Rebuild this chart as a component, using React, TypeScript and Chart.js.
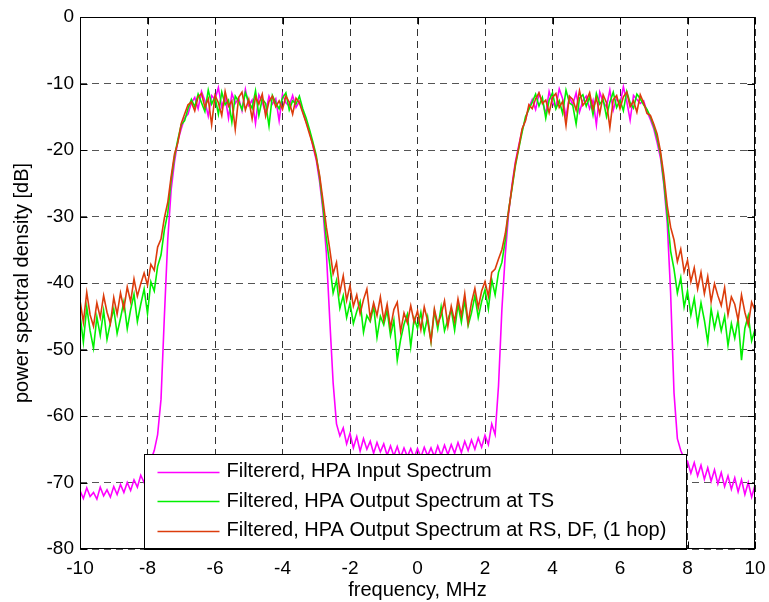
import { useEffect, useRef } from "react";
import { Chart, registerables } from "chart.js";

Chart.register(...registerables);

// Frequency grid: samples every 0.1 MHz from -10 to +10 MHz
const FREQ_START = -10;
const FREQ_STEP = 0.1;

const X_TICKS = [-10, -8, -6, -4, -2, 0, 2, 4, 6, 8, 10];
const Y_TICKS = [-80, -70, -60, -50, -40, -30, -20, -10, 0];

// Filtered HPA input spectrum [dB]
const INPUT_DB = [
  -71.2, -72.4, -70.8, -72.1, -71.5, -72.5, -70.7, -72.0, -71.1, -72.2,
  -70.6, -71.8, -70.3, -71.5, -70.0, -71.2, -69.6, -70.7, -68.9, -70.0,
  -67.8, -66.6, -65.2, -62.8, -57.5, -45.0, -33.5, -26.0, -21.8, -18.6,
  -16.8, -15.2, -14.6, -12.9, -12.1, -13.8, -11.2, -12.6, -14.9, -11.8,
  -12.4, -10.6, -13.5, -12.0, -15.2, -11.5, -13.0, -12.2, -14.1, -10.9,
  -13.3, -12.5, -16.0, -11.7, -12.8, -14.4, -11.9, -13.1, -12.3, -15.6,
  -11.6, -12.9, -13.4, -11.8, -13.6, -12.7, -14.2, -15.8, -17.2, -19.4,
  -21.5, -24.8, -29.2, -35.5, -45.5, -55.0, -61.2, -63.0, -61.8, -64.2,
  -62.6, -64.8, -63.1, -65.3, -63.4, -65.0, -63.8, -65.6, -64.0, -65.4,
  -64.2, -65.9, -64.5, -66.0, -64.6, -66.2, -64.8, -66.1, -64.9, -66.3,
  -64.9, -66.2, -64.7, -66.0, -64.8, -66.1, -64.5, -65.9, -64.4, -65.8,
  -64.3, -65.6, -64.0, -65.5, -63.8, -65.2, -63.6, -65.0, -63.3, -64.7,
  -62.9, -64.3, -61.2, -62.8, -55.5, -44.0, -35.8, -29.5, -25.2, -21.8,
  -19.3, -17.0, -15.4, -13.6, -12.4, -13.9, -11.5, -12.7, -14.6, -11.2,
  -12.9, -13.6, -10.8, -12.3, -15.0, -12.0, -13.2, -11.4, -14.3, -12.6,
  -11.9, -13.8, -12.5, -16.2, -11.3, -12.8, -13.5, -11.0, -14.0, -12.2,
  -13.1, -10.5, -12.7, -15.5, -11.8, -12.4, -13.0, -12.6, -14.2, -15.4,
  -16.8, -18.9, -21.2, -25.3, -31.0, -41.5, -56.5, -63.4, -65.2, -66.4,
  -66.8, -68.6, -67.0, -69.0, -67.4, -69.5, -67.8, -69.8, -68.1, -70.2,
  -68.5, -70.6, -69.0, -71.0, -69.3, -71.4, -69.6, -71.8, -70.0, -72.2,
  -70.4,
];

// Filtered HPA output spectrum at the transmitting station [dB]
const OUTPUT_TS_DB = [
  -44.8, -48.9, -43.6, -47.2, -49.8, -45.1, -47.9, -44.2, -48.5, -46.0,
  -43.9, -47.6, -45.3, -42.8, -46.9, -44.0, -41.7, -45.8, -43.2, -40.9,
  -44.6, -39.8, -41.2, -37.5, -35.8, -32.0, -29.5, -24.6, -21.0, -18.4,
  -16.2, -15.6, -13.8, -12.4, -13.5, -11.6, -12.9, -14.2, -11.0, -13.1,
  -12.0, -14.6, -11.3, -13.2, -12.5, -15.8, -11.9, -12.7, -13.9, -11.4,
  -12.8, -13.7, -11.1, -14.8, -12.3, -13.0, -16.4, -11.8, -12.9, -13.8,
  -12.2, -11.4, -14.0, -12.6, -13.1, -11.9, -13.8, -15.2, -16.9, -18.8,
  -20.8, -24.2, -28.5, -33.4, -37.2, -41.5, -39.6, -43.8, -41.9, -45.2,
  -43.0, -46.1, -44.3, -42.8, -47.4, -44.9, -45.8, -43.5, -48.2, -45.0,
  -46.3, -44.1, -47.9, -45.6, -51.6, -48.5, -46.2, -44.7, -49.6, -45.3,
  -46.8, -44.4, -47.5, -45.1, -48.8, -44.2, -46.9, -43.6, -47.2, -45.5,
  -44.0, -47.1, -43.2, -45.9, -42.6, -46.4, -44.5, -41.9, -45.2, -42.8,
  -41.0, -43.9, -39.5, -41.8, -38.4, -36.9, -33.6, -29.0, -25.8, -22.4,
  -19.8, -17.3, -15.0, -13.9, -12.8, -11.6, -13.4, -12.1, -15.2, -12.5,
  -11.4, -13.8, -12.6, -14.5, -11.0, -12.9, -13.3, -16.1, -12.2, -11.7,
  -13.4, -12.0, -14.7, -11.5, -13.1, -12.4, -15.0, -12.8, -11.3, -13.6,
  -12.5, -14.1, -11.2, -12.9, -13.7, -11.6, -12.3, -13.2, -13.9, -15.0,
  -16.4, -18.2, -20.6, -24.8, -29.8, -35.2, -37.9, -41.5, -39.2, -43.6,
  -41.2, -44.8, -42.3, -46.2, -43.0, -45.6, -48.9, -43.9, -46.8, -44.5,
  -47.2, -45.0, -49.4, -46.1, -48.3, -45.4, -51.6, -46.8, -44.9, -48.7,
  -47.0,
];

// Filtered HPA output spectrum at the receiving station, DF, one hop [dB]
const OUTPUT_RS_DB = [
  -42.6, -45.9, -41.4, -44.8, -46.5, -43.0, -45.2, -41.9, -44.4, -46.1,
  -42.2, -44.7, -41.5, -43.9, -40.6, -42.8, -39.4, -42.0, -40.1, -38.5,
  -40.3, -37.2, -38.1, -34.6, -33.4, -30.2, -27.9, -24.0, -20.6, -18.9,
  -16.0, -14.6, -13.2, -12.8, -14.1, -12.0, -11.5, -13.6, -12.3, -16.2,
  -11.8, -12.9, -14.8, -11.2, -13.4, -12.6, -16.9, -12.1, -11.3, -14.0,
  -12.4, -15.3, -12.0, -13.1, -11.6, -14.9, -12.7, -11.9, -13.5, -12.6,
  -13.9, -11.9, -12.8, -14.6, -12.2, -12.9, -14.4, -15.9, -17.6, -19.2,
  -21.2, -23.8, -27.6, -31.6, -34.9, -38.6, -36.9, -41.4, -38.9, -42.6,
  -40.4, -43.5, -41.8, -44.6, -42.5, -40.9, -45.3, -43.0, -44.9, -42.1,
  -45.6, -43.2, -46.8, -44.0, -42.9, -47.3, -44.5, -46.0, -43.4, -45.9,
  -44.2, -47.0, -43.6, -45.7, -48.8, -43.9, -46.2, -44.8, -42.7, -46.5,
  -43.5, -45.8, -42.4, -44.9, -41.6, -46.0, -42.9, -40.8, -43.7, -41.2,
  -39.8, -42.0, -38.4, -37.9, -36.4, -35.0, -32.6, -29.2, -25.6, -22.1,
  -19.6, -16.8, -15.6, -13.2, -13.8, -12.3, -11.4, -13.0, -12.5, -14.4,
  -12.1, -11.5, -13.6, -12.7, -16.3, -11.9, -12.4, -14.0, -11.1, -13.3,
  -12.6, -11.4, -13.9, -12.2, -14.6, -11.7, -12.9, -16.6, -12.4, -11.8,
  -13.8, -12.0, -11.3, -13.5, -12.6, -14.3, -11.7, -12.9, -14.5, -14.8,
  -16.1, -17.6, -20.2, -23.8, -28.4, -31.6, -33.5, -36.8, -34.9, -38.3,
  -36.6, -39.8, -37.7, -40.9, -38.4, -41.6, -39.0, -42.8, -40.1, -41.9,
  -43.4, -40.7, -44.8, -42.1, -43.2, -45.6, -41.8, -44.4, -46.3, -42.9,
  -44.1,
];

const SERIES_LABELS = [
  "Filtererd, HPA Input Spectrum",
  "Filtered, HPA Output Spectrum at TS",
  "Filtered, HPA Output Spectrum at RS, DF, (1 hop)",
];
const SERIES_COLORS = ["#ff00ff", "#00f000", "#dc3c0c"];
const SERIES_WIDTHS = [1.6, 1.6, 1.6];

const FONT_FAMILY = '"Liberation Sans", Arial, Helvetica, sans-serif';

const toPoints = (values: number[]) =>
  values.map((v, i) => ({ x: Math.round((FREQ_START + i * FREQ_STEP) * 10) / 10, y: v }));

// Inward tick marks, boxed legend and the full axes frame
const framePlugin = {
  id: "frameAndLegend",
  afterDraw(chart: any) {
    const { ctx, chartArea: a, scales } = chart;
    const xs = scales.x;
    const ys = scales.y;
    const L = Math.round(a.left) + 0.5;
    const R = Math.round(a.right) - 0.5;
    const T = Math.round(a.top) + 0.5;
    const B = Math.round(a.bottom) - 0.5;
    ctx.save();
    ctx.strokeStyle = "#000";
    ctx.lineWidth = 1;
    ctx.setLineDash([]);

    ctx.beginPath();
    for (const v of X_TICKS) {
      const px = Math.round(xs.getPixelForValue(v)) + 0.5;
      ctx.moveTo(px, B);
      ctx.lineTo(px, B - 7);
      ctx.moveTo(px, T);
      ctx.lineTo(px, T + 7);
    }
    for (const v of Y_TICKS) {
      const py = Math.round(ys.getPixelForValue(v)) + 0.5;
      ctx.moveTo(L, py);
      ctx.lineTo(L + 7, py);
      ctx.moveTo(R, py);
      ctx.lineTo(R - 7, py);
    }
    ctx.stroke();

    // legend box
    ctx.font = `20px ${FONT_FAMILY}`;
    const labels: string[] = chart.data.datasets.map((d: any) => d.label);
    const colors: string[] = chart.data.datasets.map((d: any) => d.borderColor);
    const textW = Math.max(...labels.map((t) => ctx.measureText(t).width));
    const boxW = Math.round(82 + textW + 20);
    const boxH = 95;
    const cx = (a.left + a.right) / 2 - 3;
    const left = Math.round(cx - boxW / 2) + 0.5;
    const top = Math.round(B - boxH) + 0.5;
    ctx.fillStyle = "#fff";
    ctx.fillRect(left, top, boxW, boxH);
    ctx.strokeRect(left, top, boxW, boxH);
    ctx.textBaseline = "middle";
    ctx.textAlign = "left";
    labels.forEach((t, k) => {
      const yy = top + 17 + k * 29.5;
      ctx.strokeStyle = colors[k];
      ctx.lineWidth = 1.5;
      ctx.beginPath();
      ctx.moveTo(left + 13, Math.round(yy) + 0.5);
      ctx.lineTo(left + 75, Math.round(yy) + 0.5);
      ctx.stroke();
      ctx.fillStyle = "#000";
      ctx.fillText(t, left + 82, yy);
    });

    // axes box
    ctx.strokeStyle = "#000";
    ctx.lineWidth = 1;
    ctx.strokeRect(L, T, R - L, B - T);
    ctx.restore();
  },
};

export default function App() {
  const canvasRef = useRef<HTMLCanvasElement | null>(null);

  useEffect(() => {
    const canvas = canvasRef.current;
    if (!canvas) return;
    const seriesValues = [INPUT_DB, OUTPUT_TS_DB, OUTPUT_RS_DB];
    const chart = new Chart(canvas, {
      type: "line",
      data: {
        datasets: seriesValues.map((vals, k) => ({
          label: SERIES_LABELS[k],
          data: toPoints(vals),
          borderColor: SERIES_COLORS[k],
          backgroundColor: SERIES_COLORS[k],
          borderWidth: SERIES_WIDTHS[k],
          pointRadius: 0,
          tension: 0,
          fill: false,
          order: 3 - k,
        })),
      },
      options: {
        animation: false,
        responsive: false,
        events: [],
        layout: { padding: { top: 17, right: 14, left: 0, bottom: 0 } },
        plugins: { legend: { display: false }, tooltip: { enabled: false } },
        scales: {
          x: {
            type: "linear",
            min: -10,
            max: 10,
            afterBuildTicks: (s: any) => {
              s.ticks = X_TICKS.map((value) => ({ value }));
            },
            afterFit: (s: any) => {
              s.height = 53;
              s.paddingLeft = 0;
              s.paddingRight = 0;
            },
            ticks: {
              color: "#000",
              font: { family: FONT_FAMILY, size: 19 },
              padding: 8,
              maxRotation: 0,
              autoSkip: false,
            },
            grid: { color: "#333", drawTicks: false, lineWidth: 1 },
            border: { display: false, dash: [7, 5] },
            title: {
              display: true,
              text: "frequency, MHz",
              color: "#000",
              font: { family: FONT_FAMILY, size: 20 },
              padding: 0,
            },
          },
          y: {
            min: -80,
            max: 0,
            afterBuildTicks: (s: any) => {
              s.ticks = Y_TICKS.map((value) => ({ value }));
            },
            afterFit: (s: any) => {
              s.width = 80;
              s.paddingTop = 0;
              s.paddingBottom = 0;
            },
            ticks: {
              color: "#000",
              font: { family: FONT_FAMILY, size: 19 },
              padding: 6,
              autoSkip: false,
            },
            grid: { color: "#555", drawTicks: false, lineWidth: 1 },
            border: { display: false, dash: [7, 5] },
            title: {
              display: true,
              text: "power spectral density [dB]",
              color: "#000",
              font: { family: FONT_FAMILY, size: 20 },
              padding: { top: 10, bottom: 0 },
            },
          },
        },
      },
      plugins: [framePlugin],
    });
    return () => chart.destroy();
  }, []);

  return (
    <div style={{ position: "absolute", left: 0, top: 0, width: 769, height: 602, background: "#fff" }}>
      <canvas ref={canvasRef} width={769} height={602} style={{ display: "block" }} />
    </div>
  );
}
